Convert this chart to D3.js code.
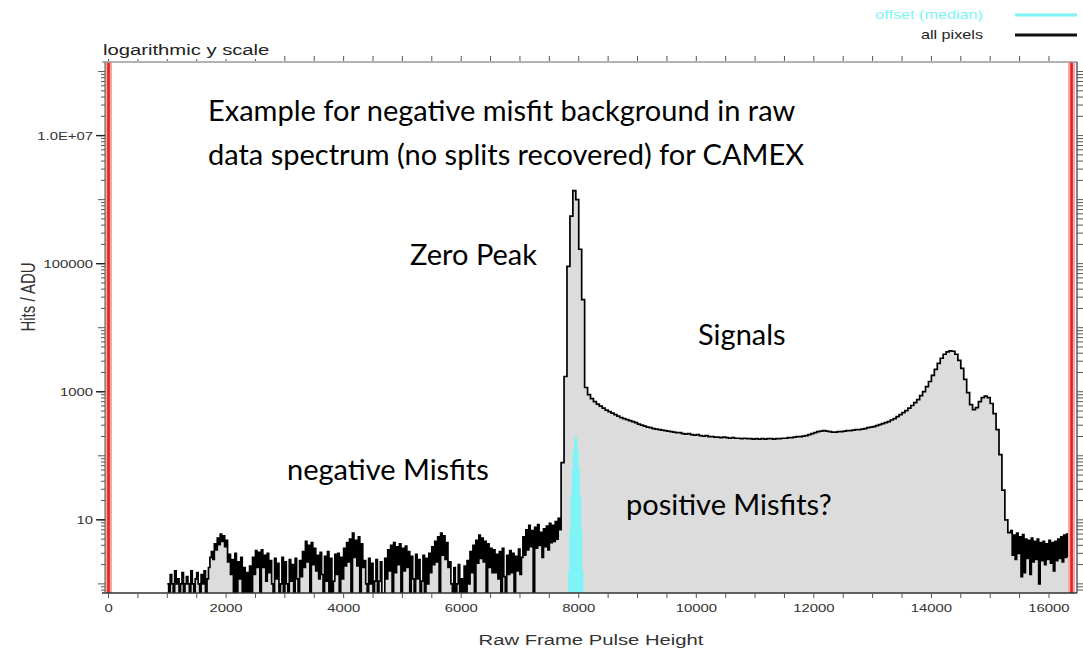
<!DOCTYPE html>
<html>
<head>
<meta charset="utf-8">
<script src="https://cdn.jsdelivr.net/npm/d3@7"></script>
<style>
  html, body { margin: 0; padding: 0; background: #fff; }
  svg { display: block; }
  .plotfont { font-family: "Liberation Sans", Arial, Helvetica, sans-serif; }
  .note { font-family: Lato, "Open Sans", sans-serif; fill: #000; }
</style>
</head>
<body>
<svg id="chart" width="1083" height="651"></svg>
<script>
// Raw frame pulse-height spectrum (hits per ADU).
// Low-count regions use 25 ADU bins, the peak and plateau use 50 ADU bins.

// 1000 .. 7675 ADU (25 ADU bins): negative misfit background
const negMisfitCounts = [
  1, 0, 1.4, 1, 0, 1.6, 1, 1.2, 0, 1, 1.5, 0, 1, 1.3, 1, 0, 1.6, 1, 0, 1.2, 1.5, 1, 0, 1.4, 1, 1.6, 0, 1.2,
  1.8, 2.6, 3.2, 2.4, 4.2, 3.4, 5.2, 4.1, 6.0, 4.6, 5.6, 3.8, 4.8, 2.2,
  2.9, 1.4, 2.4, 0, 3.0, 0, 2.2, 1.2, 2.6, 0,
  1.8, 0, 1.5, 0, 1.9, 0,
  2.6, 1.4, 3.3, 1.8, 3.1, 0, 3.4, 1.8, 2.8, 1.1, 3.0, 1.5,
  2.3, 1.0, 0, 2.5, 1.2, 2.1, 0, 1.0, 2.6, 0, 2.2, 1.0, 0, 2.4, 1.1, 2.0, 0, 2.5, 1.2, 0, 2.3, 1.3,
  3.2, 1.8, 4.6, 2.2, 4.0, 0, 4.4, 2.0, 3.6, 1.6,
  2.8, 1.2, 3.1, 1.4, 0, 2.7, 1.1, 3.2, 0, 2.5, 0, 1.1, 2.9, 1.4, 3.0, 0, 2.6, 1.2,
  3.6, 1.9, 4.4, 2.2, 5.0, 0, 6.2, 2.6, 4.8, 1.9, 5.4, 0, 4.2, 1.8,
  2.3, 1.0, 0, 2.5, 1.0, 2.1, 0, 1.1, 2.4, 0, 1.1, 2.2, 0, 0, 2.5, 1.2,
  3.4, 1.6, 4.0, 0, 4.4, 1.5, 3.8, 2.0, 4.2, 0, 3.6, 1.6, 3.9, 1.8, 3.2, 0,
  2.7, 1.2, 0, 2.9, 1.2, 2.4, 0, 1.1, 2.8, 0, 2.5, 1.0,
  3.0, 1.5, 3.8, 2.0, 4.6, 2.2, 5.4, 0, 6.2, 2.8, 5.6, 2.4, 4.4, 1.8,
  2.2, 1.0, 0, 1.8, 0, 1.0, 2.0, 0, 1.2, 0, 1.9, 0, 2.3, 1.0,
  3.2, 1.5, 4.0, 0, 4.8, 2.1, 5.8, 2.5, 5.2, 2.2, 4.6, 0, 4.2, 1.8, 3.6, 1.5,
  3.4, 1.5, 2.9, 1.2, 3.2, 0, 3.6, 1.3, 0, 2.8, 1.4, 3.3, 1.5, 3.0, 0, 2.7, 1.6, 3.5, 1.4, 2.6,
  5.4, 2.8, 7.0, 3.4, 8.2, 3.8, 6.8, 0, 7.6, 3.6, 8.4, 4.0, 6.4, 2.6, 7.2, 3.8, 8.0, 3.4, 8.8, 4.4, 8.2, 4.6, 9.4, 5.0, 10.5, 7.0
];

// 7700 .. 8100 ADU (50 ADU bins): zero peak
const zeroPeakCounts = [78, 1730, 91000, 552000, 1380000, 1000000, 168000, 27500, 1165];

// 8150 .. 13150 ADU (50 ADU bins): plateau
const plateauCounts = [
  904, 783, 703, 642, 597, 556, 517, 490, 464, 440,
  417, 395, 381, 367, 354, 342, 330, 312, 301, 291,
  280, 275, 266, 261, 256, 251, 247, 243, 238, 234,
  230, 230, 222, 218, 222, 214, 210, 214, 206, 203,
  206, 199, 199, 195, 195, 192, 195, 192, 188, 192,
  188, 188, 185, 188, 185, 185, 182, 185, 182, 185,
  182, 185, 185, 182, 185, 185, 188, 188, 192, 192,
  195, 199, 199, 203, 206, 214, 222, 230, 238, 243,
  247, 243, 238, 234, 234, 238, 238, 243, 247, 247,
  251, 256, 256, 261, 266, 275, 280, 285, 296, 307,
  318
];

// 13200 .. 15300 ADU (50 ADU bins): signal peaks
const signalCounts = [
  330, 342, 362, 381, 410, 440, 472, 509, 556, 610,
  677, 755, 872, 1006, 1205, 1446, 1796, 2233, 2775, 3335,
  3850, 4208, 4363, 4290, 3850, 3100, 2320, 1560, 971, 631,
  526, 567, 703, 811, 855, 811, 655, 456, 256, 104,
  29, 10, 6.3
];

// 15350 .. 16350 ADU (25 ADU bins): upper tail
const tailCounts = [
  6.8, 2.8, 5.8, 2.4, 6.2, 3.0, 5.4, 1.3, 5.9, 1.5,
  5.0, 2.5, 4.8, 1.4, 5.2, 2.2, 4.6, 2.4, 5.0, 1.0,
  4.4, 2.3, 4.6, 2.0, 4.2, 2.4, 4.8, 2.1, 4.4, 1.6,
  4.6, 2.3, 5.0, 2.5, 5.4, 2.2, 5.8, 2.6, 6.0, 2.7,
  5.2
];

// bin layout of the spectrum segments: [first bin start, bin width]
const segmentStarts = [1000, 7700, 8150, 13200, 15350];
const segmentWidths = [25, 50, 50, 50, 25];

// median offset distribution, 20 ADU bins starting at 7800 ADU
const offsetStart = 7800;
const offsetWidth = 20;
const offsetCounts = [0.3, 1.6, 7, 24, 62, 122, 185, 214, 185, 122, 62, 24, 7, 1.6, 0.3];

// ADC range limits
const adcRange = [0, 16384];

const xTickValues = [0, 2000, 4000, 6000, 8000, 10000, 12000, 14000, 16000];
const yTickValues = [10, 1000, 100000, 10000000];
const yTickLabels = ["10", "1000", "100000", "1.0E+07"];
const seriesNames = ["offset (median)", "all pixels"];

const svg = d3.select("#chart");
const plot = { left: 105, right: 1077, top: 62, bottom: 593 };
const stretch = 1.35;

const x = d3.scaleLinear().domain([-60, 16477]).range([plot.left, plot.right]);
const y = d3.scaleLog().domain([0.72, 1.41e8]).range([plot.bottom, plot.top]).clamp(true);
const yFloor = y.domain()[0];
const yv = c => y(Math.max(c, yFloor));

function stretchedText(g, txt, tx, ty, anchor, size, color) {
  return g.append("text")
    .attr("class", "plotfont")
    .attr("transform", `translate(${tx},${ty}) scale(${stretch},1)`)
    .attr("text-anchor", anchor)
    .attr("font-size", size)
    .attr("fill", color)
    .text(txt);
}

svg.append("defs").append("clipPath").attr("id", "plotclip")
  .append("rect").attr("x", plot.left).attr("y", plot.top)
  .attr("width", plot.right - plot.left).attr("height", plot.bottom - plot.top);

// histogram bins, segment by segment
const segments = [negMisfitCounts, zeroPeakCounts, plateauCounts, signalCounts, tailCounts];
const stepPts = [];
segments.forEach((arr, s) => {
  arr.forEach((c, i) => stepPts.push({ x0: segmentStarts[s] + i * segmentWidths[s], c }));
});
const lastSeg = segments.length - 1;
stepPts.push({
  x0: segmentStarts[lastSeg] + tailCounts.length * segmentWidths[lastSeg],
  c: tailCounts[tailCounts.length - 1]
});

// body fill bridges single-bin dips in the low-count noise
const bodyPts = stepPts.map((d, i, a) => {
  if (d.c >= 50 || i === 0 || i >= a.length - 1) return d;
  return { x0: d.x0, c: Math.max(d.c, Math.min(a[i - 1].c, a[i + 1].c)) };
});

const offsetPts = offsetCounts.map((c, i) => ({ x0: offsetStart + i * offsetWidth, c }));
offsetPts.push({ x0: offsetStart + offsetCounts.length * offsetWidth, c: 0 });

const data = svg.append("g").attr("clip-path", "url(#plotclip)");

const area = d3.area().curve(d3.curveStepAfter)
  .x(d => x(d.x0)).y0(plot.bottom).y1(d => yv(d.c));
const line = d3.line().curve(d3.curveStepAfter)
  .x(d => x(d.x0)).y(d => yv(d.c));

data.append("path").datum(bodyPts).attr("d", area).attr("fill", "#dcdcdc");
data.append("path").datum(offsetPts).attr("d", area).attr("fill", "#7ff4f6");
data.append("path").datum(stepPts).attr("d", line)
  .attr("fill", "none").attr("stroke", "#000").attr("stroke-width", 1.7)
  .attr("stroke-linejoin", "miter");

// ADC range markers
const marks = svg.append("g");
adcRange.forEach(v => {
  marks.append("rect").attr("x", x(v) - 3.5).attr("y", plot.top)
    .attr("width", 7).attr("height", plot.bottom - plot.top).attr("fill", "#f5a7a7");
  marks.append("line").attr("x1", x(v)).attr("x2", x(v))
    .attr("y1", plot.top).attr("y2", plot.bottom)
    .attr("stroke", "#e2231f").attr("stroke-width", 2.6);
});

// frame and axes
const axes = svg.append("g");
axes.append("line").attr("x1", plot.left - 3).attr("x2", plot.right)
  .attr("y1", plot.top).attr("y2", plot.top).attr("stroke", "#9a9a9a").attr("stroke-width", 1.4);
axes.append("line").attr("x1", plot.left - 3).attr("x2", plot.right)
  .attr("y1", plot.bottom).attr("y2", plot.bottom).attr("stroke", "#333").attr("stroke-width", 1.3);
axes.append("line").attr("x1", plot.left).attr("x2", plot.left)
  .attr("y1", plot.top).attr("y2", plot.bottom).attr("stroke", "#555").attr("stroke-width", 1);
axes.append("line").attr("x1", plot.right).attr("x2", plot.right)
  .attr("y1", plot.top).attr("y2", plot.bottom).attr("stroke", "#333").attr("stroke-width", 1.2);

// x ticks every 500 ADU, bottom (down) and top (up)
const xMinor = d3.range(0, 16001, 500);
xMinor.forEach(v => {
  axes.append("line").attr("x1", x(v)).attr("x2", x(v))
    .attr("y1", plot.bottom).attr("y2", plot.bottom + 5).attr("stroke", "#555").attr("stroke-width", 1);
  axes.append("line").attr("x1", x(v)).attr("x2", x(v))
    .attr("y1", plot.top - 6).attr("y2", plot.top - 1).attr("stroke", "#555").attr("stroke-width", 1);
});
xTickValues.forEach(v => {
  stretchedText(axes, String(v), x(v), 612, "middle", 11, "#333");
});

// log ticks on left (outward) and right (outward)
const logTicks = [];
for (let e = -1; e <= 8; e++) {
  for (let k = 1; k <= 9; k++) {
    const v = k * Math.pow(10, e);
    if (v >= y.domain()[0] && v <= y.domain()[1]) logTicks.push({ v, major: k === 1 });
  }
}
logTicks.forEach(t => {
  const len = t.major ? 7 : 4;
  axes.append("line").attr("x1", plot.left - len).attr("x2", plot.left)
    .attr("y1", y(t.v)).attr("y2", y(t.v)).attr("stroke", "#555").attr("stroke-width", 1);
  axes.append("line").attr("x1", plot.right).attr("x2", plot.right + 6)
    .attr("y1", y(t.v)).attr("y2", y(t.v)).attr("stroke", "#555").attr("stroke-width", 1);
});
yTickValues.forEach((v, i) => {
  axes.append("line").attr("x1", plot.left - 9).attr("x2", plot.left)
    .attr("y1", y(v)).attr("y2", y(v)).attr("stroke", "#222").attr("stroke-width", 1.4);
  stretchedText(axes, yTickLabels[i], 93, y(v) + 4, "end", 11, "#333");
});

// axis titles
stretchedText(axes, "Raw Frame Pulse Height", 591, 645, "middle", 15, "#333");
axes.append("text").attr("class", "plotfont")
  .attr("transform", `translate(35,297) scale(${stretch},1) rotate(-90)`)
  .attr("text-anchor", "middle").attr("font-size", 15).attr("fill", "#333")
  .text("Hits / ADU");

// scale caption on top edge
axes.append("rect").attr("x", 100).attr("y", 38).attr("width", 174).attr("height", 21).attr("fill", "#fff");
stretchedText(axes, "logarithmic y scale", 103, 55, "start", 15, "#222");

// legend
const legend = svg.append("g");
const legendColors = ["#7ff4f6", "#111"];
seriesNames.forEach((name, i) => {
  const ly = 15 + i * 20;
  legend.append("line").attr("x1", 1015).attr("x2", 1077)
    .attr("y1", ly).attr("y2", ly).attr("stroke", legendColors[i]).attr("stroke-width", 3);
  stretchedText(legend, name, 983, ly + 4, "end", 12, i === 0 ? "#7ff4f6" : "#222");
});

// annotations
const notes = svg.append("g");
const noteLines = [
  ["Example for negative misfit background in raw", 208, 121],
  ["data spectrum (no splits recovered) for CAMEX", 208, 165],
  ["Zero Peak", 410, 265],
  ["Signals", 698, 345],
  ["negative Misfits", 287, 480],
  ["positive Misfits?", 626, 515]
];
noteLines.forEach(([t, tx, ty]) => {
  notes.append("text").attr("class", "note").attr("x", tx).attr("y", ty)
    .attr("font-size", 29).text(t);
});
</script>
</body>
</html>
